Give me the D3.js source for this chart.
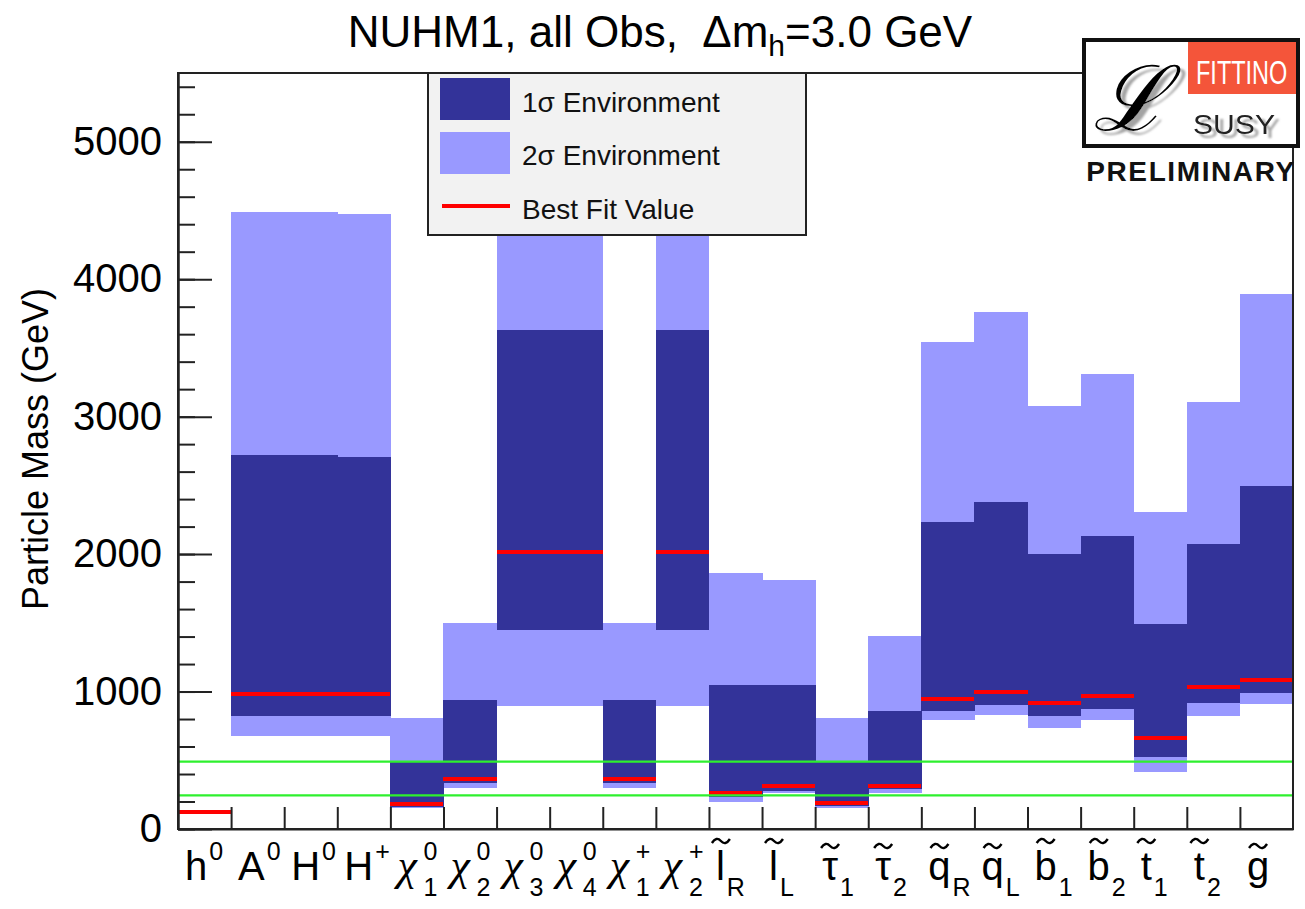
<!DOCTYPE html>
<html><head><meta charset="utf-8">
<script src="https://cdn.jsdelivr.net/npm/d3@7"></script>
<style>body{margin:0;background:#fff}svg text{font-family:"Liberation Sans",Arial,sans-serif}</style>
</head><body>
<svg id="c" width="1305" height="909"></svg>
<script>
const categories = ["h0","A0","H0","H+","chi10","chi20","chi30","chi40","chi1+","chi2+","lR","lL","tau1","tau2","qR","qL","b1","b2","t1","t2","g"];
const labelMain  = ["h","A","H","H","χ","χ","χ","χ","χ","χ","l","l","τ","τ","q","q","b","b","t","t","g"];
const labelSup   = ["0","0","0","+","0","0","0","0","+","+","","","","","","","","","","",""];
const labelSub   = ["","","","","1","2","3","4","1","2","R","L","1","2","R","L","1","2","1","2",""];
const labelTilde = [0,0,0,0,0,0,0,0,0,0,1,1,1,1,1,1,1,1,1,1,1];
const sigma2Low  = [118, 676, 676, 676, 153, 300, 895, 895, 300, 895, 199, 264, 155, 260, 790, 831, 732, 790, 415, 822, 907];
const sigma2High = [124, 4487, 4487, 4473, 806, 1500, 4500, 4500, 1500, 4500, 1862, 1811, 807, 1404, 3540, 3758, 3074, 3307, 2303, 3103, 3889];
const sigma1Low  = [119, 821, 821, 821, 162, 332, 1447, 1447, 332, 1447, 230, 279, 170, 289, 860, 902, 820, 875, 526, 919, 991];
const sigma1High = [123, 2720, 2720, 2705, 490, 938, 3627, 3627, 938, 3627, 1047, 1047, 490, 860, 2230, 2376, 1998, 2129, 1491, 2071, 2492];
const bestFit    = [121, 981, 981, 981, 180, 366, 2013, 2013, 366, 2013, 264, 310, 191, 315, 943, 994, 919, 965, 664, 1035, 1081];
const greenLines = [490, 245];
const yMajorTicks = [0,1000,2000,3000,4000,5000];
const title = "NUHM1, all Obs,  Δm";
const legendLabels = ["1σ Environment","2σ Environment","Best Fit Value"];

const C1 = "#333399", C2 = "#9999ff", RED = "#ff0000", GREEN = "#2ef02e";
const L = 178, R = 1293, T = 73, B = 829;
const svg = d3.select("#c");
const defs = svg.append("defs");
const f = defs.append("filter").attr("id", "sh").attr("x", "-20%").attr("y", "-20%").attr("width", "150%").attr("height", "150%");
f.append("feDropShadow").attr("dx", 5).attr("dy", 4).attr("stdDeviation", 1.2).attr("flood-color", "#999").attr("flood-opacity", 0.9);

const x = d3.scaleBand().domain(categories).range([L, R]).padding(0);
const xl = d3.scaleLinear().domain([0, categories.length]).range([L, R]);
const y = d3.scaleLinear().domain([0, 5500]).range([B, T]);
const idx = d3.range(categories.length);

// bands
svg.append("g").attr("shape-rendering", "crispEdges").selectAll("rect").data(idx).join("rect")
  .attr("x", i => x(categories[i])).attr("width", x.bandwidth() + 0.5)
  .attr("y", i => y(sigma2High[i])).attr("height", i => y(sigma2Low[i]) - y(sigma2High[i]))
  .attr("fill", C2);
svg.append("g").attr("shape-rendering", "crispEdges").selectAll("rect").data(idx).join("rect")
  .attr("x", i => x(categories[i])).attr("width", x.bandwidth() + 0.5)
  .attr("y", i => y(sigma1High[i])).attr("height", i => y(sigma1Low[i]) - y(sigma1High[i]))
  .attr("fill", C1);
svg.append("g").attr("shape-rendering", "crispEdges").selectAll("line").data(idx).join("line")
  .attr("x1", i => x(categories[i])).attr("x2", i => x(categories[i]) + x.bandwidth())
  .attr("y1", i => y(bestFit[i])).attr("y2", i => y(bestFit[i]))
  .attr("stroke", RED).attr("stroke-width", 4);
svg.append("g").selectAll("line").data(greenLines).join("line")
  .attr("x1", L).attr("x2", R).attr("y1", d => y(d)).attr("y2", d => y(d))
  .attr("stroke", GREEN).attr("stroke-width", 2.2);

// frame
svg.append("rect").attr("x", L).attr("y", T).attr("width", R - L).attr("height", B - T)
  .attr("fill", "none").attr("stroke", "#222").attr("stroke-width", 2);

// y axis
const yAxisMinor = d3.axisLeft(y).tickValues(d3.range(0, 5501, 200)).tickSizeInner(-17).tickSizeOuter(0).tickFormat("");
const gy1 = svg.append("g").attr("transform", `translate(${L},0)`).call(yAxisMinor);
const yAxisMajor = d3.axisLeft(y).tickValues(yMajorTicks).tickSizeInner(-34).tickSizeOuter(0).tickPadding(16).tickFormat(d3.format("d"));
const gy2 = svg.append("g").attr("transform", `translate(${L},0)`).call(yAxisMajor);
[gy1, gy2].forEach(g => { g.select(".domain").attr("stroke", "#222").attr("stroke-width", 2);
  g.selectAll(".tick line").attr("stroke", "#222").attr("stroke-width", 2); });
gy2.selectAll(".tick text").attr("font-size", 40).attr("fill", "#000").attr("font-family", "Liberation Sans, Arial, sans-serif");

// x axis ticks
const gx = svg.append("g").attr("transform", `translate(0,${B})`)
  .call(d3.axisBottom(xl).tickValues(d3.range(1, categories.length)).tickSizeInner(-22).tickSizeOuter(0).tickFormat(""));
gx.select(".domain").attr("stroke", "#222").attr("stroke-width", 2);
gx.selectAll(".tick line").attr("stroke", "#222").attr("stroke-width", 2);

// x labels (one text element per label, parts as tspans; tilde accent drawn as a stroke)
const gl = svg.append("g");
const measure = svg.append("text").attr("visibility", "hidden");
const tallLetters = "lbt";
idx.forEach(i => {
  const x0 = x(categories[i]) + 7;
  const base = 880;
  const isGreek = labelMain[i] === "χ";
  const fam = isGreek ? "Liberation Serif, serif" : "Liberation Sans, Arial, sans-serif";
  const fs = isGreek ? 44 : 40;
  measure.attr("font-family", fam).attr("font-size", fs).attr("font-style", isGreek ? "italic" : "normal").text(labelMain[i]);
  const w = measure.node().getComputedTextLength();
  const t = gl.append("text").attr("fill", "#000");
  t.append("tspan").attr("x", x0).attr("y", base).attr("font-family", fam).attr("font-size", fs)
    .attr("font-style", isGreek ? "italic" : "normal").text(labelMain[i]);
  if (labelSup[i]) t.append("tspan").attr("x", x0 + w + 2).attr("y", base - 20).attr("font-size", 25).text(labelSup[i]);
  if (labelSub[i]) t.append("tspan").attr("x", x0 + w + 2).attr("y", base + 16).attr("font-size", 25).text(labelSub[i]);
  if (labelTilde[i]) {
    const cx = x0 + w / 2 + (labelMain[i] === "l" ? 0.5 : 0);
    const cy = tallLetters.includes(labelMain[i]) ? 841 : 846;
    gl.append("path").attr("d", `M${cx - 9},${cy + 2} Q${cx - 4.5},${cy - 5} ${cx},${cy} T${cx + 9},${cy - 2}`)
      .attr("fill", "none").attr("stroke", "#000").attr("stroke-width", 2.4);
  }
});
measure.remove();

// y title
svg.append("text").attr("transform", "translate(48,449) rotate(-90)").attr("text-anchor", "middle")
  .attr("font-size", 36).attr("fill", "#000").text("Particle Mass (GeV)");

// title
const tt = svg.append("text").attr("x", 660).attr("y", 47).attr("text-anchor", "middle")
  .attr("font-size", 44).attr("fill", "#000").style("white-space", "pre");
tt.append("tspan").text(title);
tt.append("tspan").attr("font-size", 30).attr("dy", 9).text("h");
tt.append("tspan").attr("dy", -9).text("=3.0 GeV");

// legend
const lg = svg.append("g");
lg.append("rect").attr("x", 428).attr("y", 73).attr("width", 378).attr("height", 162)
  .attr("fill", "#f2f2f2").attr("stroke", "#222").attr("stroke-width", 2);
lg.append("rect").attr("x", 440).attr("y", 78).attr("width", 70).attr("height", 42).attr("fill", C1);
lg.append("rect").attr("x", 440).attr("y", 132).attr("width", 70).attr("height", 42).attr("fill", C2);
lg.append("line").attr("x1", 442).attr("x2", 510).attr("y1", 206).attr("y2", 206).attr("stroke", RED).attr("stroke-width", 4);
legendLabels.forEach((s, k) => lg.append("text").attr("x", 522).attr("y", [112, 165, 219][k])
  .attr("font-size", 28).attr("fill", "#111").text(s));

// logo
const lo = svg.append("g");
lo.append("rect").attr("x", 1084).attr("y", 40).attr("width", 214).attr("height", 106).attr("fill", "#fff")
  .attr("stroke", "#111").attr("stroke-width", 4);
lo.append("rect").attr("x", 1188).attr("y", 42).attr("width", 108).attr("height", 52).attr("fill", "#f4553a");
lo.append("text").attr("transform", "translate(1196,84) scale(1,1.4)").attr("x", 0).attr("y", 0)
  .attr("font-size", 23.5).attr("fill", "#fff").text("FITTINO");
lo.append("text").attr("x", 1093).attr("y", 130).attr("font-size", 90).attr("font-style", "italic")
  .attr("font-family", "DejaVu Serif, serif").attr("fill", "#000").attr("filter", "url(#sh)").text("ℒ");
lo.append("text").attr("x", 1193).attr("y", 134).attr("font-size", 28).attr("textLength", 82)
  .attr("lengthAdjust", "spacingAndGlyphs").attr("fill", "#222").attr("filter", "url(#sh)").text("SUSY");
lo.append("text").attr("x", 1191).attr("y", 181).attr("text-anchor", "middle").attr("font-size", 28)
  .attr("font-weight", "bold").attr("letter-spacing", 1.6).attr("fill", "#111").text("PRELIMINARY");
</script>
</body></html>
